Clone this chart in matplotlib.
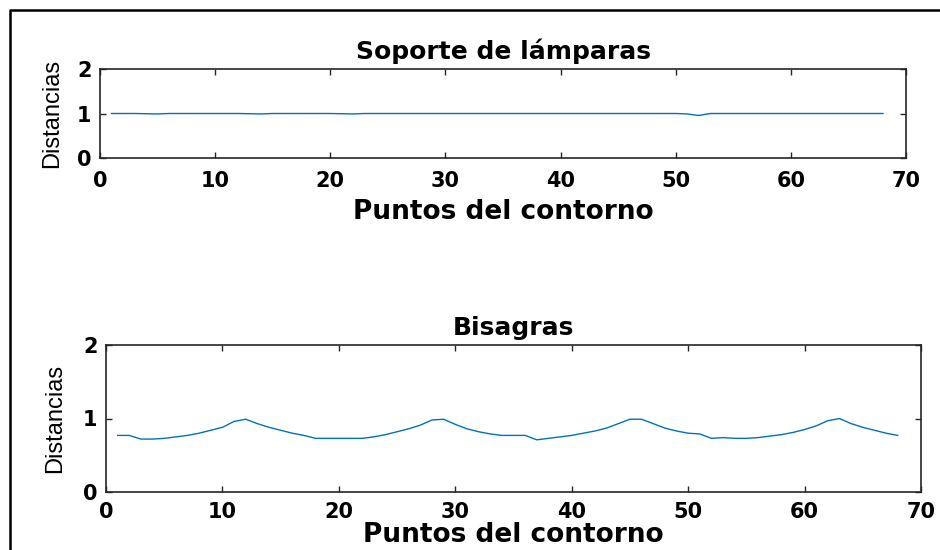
import matplotlib.pyplot as plt
from matplotlib.lines import Line2D

# Puntos del contorno (1..68)
puntos = list(range(1, 69))

# Soporte de lámparas: distancias casi constantes con una pequeña caída en 52
soporte = [1.0, 1.0, 1.0, 0.995, 0.99, 1.0, 1.0, 1.0, 1.0, 1.0,
           1.0, 1.0, 0.995, 0.99, 1.0, 1.0, 1.0, 1.0, 1.0, 1.0,
           0.995, 0.99, 1.0, 1.0, 1.0, 1.0, 1.0, 1.0, 1.0, 1.0,
           1.0, 1.0, 1.0, 1.0, 1.0, 1.0, 1.0, 1.0, 1.0, 1.0,
           1.0, 1.0, 1.0, 1.0, 1.0, 1.0, 1.0, 1.0, 1.0, 1.0,
           0.99, 0.955, 1.0, 1.0, 1.0, 1.0, 1.0, 1.0, 1.0, 1.0,
           1.0, 1.0, 1.0, 1.0, 1.0, 1.0, 1.0, 1.0]

# Bisagras: cuatro picos periódicos
bisagras = [0.77, 0.77, 0.72, 0.72, 0.73, 0.75, 0.77, 0.80, 0.84, 0.88,
            0.96, 0.99, 0.93, 0.88, 0.84, 0.80, 0.77, 0.73, 0.73, 0.73,
            0.73, 0.73, 0.75, 0.78, 0.82, 0.86, 0.91, 0.98, 0.99, 0.92,
            0.86, 0.82, 0.79, 0.77, 0.77, 0.77, 0.71, 0.73, 0.75, 0.77,
            0.80, 0.83, 0.87, 0.93, 0.99, 0.99, 0.93, 0.87, 0.83, 0.80,
            0.79, 0.73, 0.74, 0.73, 0.73, 0.74, 0.76, 0.78, 0.81, 0.85,
            0.90, 0.97, 1.00, 0.93, 0.88, 0.84, 0.80, 0.77]

xticks = [0, 10, 20, 30, 40, 50, 60, 70]
yticks = [0, 1, 2]

plt.rcParams['font.family'] = ['DejaVu Sans']

fig = plt.figure(figsize=(9.4, 5.5), dpi=100)
fig.patch.set_facecolor('white')

#Frame around figure (left and top edges visible)
W, H = 940.0, 550.0
fig.add_artist(Line2D([10 / W, 10 / W, 1.0], [0.0, 1 - 10 / H, 1 - 10 / H],
                      transform=fig.transFigure, color='black', lw=1.8))

axTop = fig.add_axes([100 / W, 1 - 158 / H, 806 / W, 89 / H])
axBot = fig.add_axes([106 / W, 1 - 492 / H, 815 / W, 147 / H])

#Per-axes settings: (axes, data, title, x tick pad, xlabel pad, ylabel pad)
settings = [(axTop, soporte, 'Soporte de lámparas', 9, 6, 10),
            (axBot, bisagras, 'Bisagras', 7, 0, 12)]

for ax, y, title, xpad, xlpad, ylpad in settings:
    ax.plot(puntos, y, color='#0072BD', lw=1.0)
    ax.set_xlim(0, 70)
    ax.set_ylim(0, 2)
    ax.set_xticks(xticks)
    ax.set_yticks(yticks)
    ax.tick_params(direction='in', top=True, right=True, length=4, width=1,
                   color='#262626', labelsize=15)
    ax.tick_params(axis='x', pad=xpad)
    ax.tick_params(axis='y', pad=6)
    for lab in ax.get_xticklabels() + ax.get_yticklabels():
        lab.set_fontweight('bold')
    for sp in ax.spines.values():
        sp.set_color('#262626')
        sp.set_linewidth(1.2)
    ax.set_title(title, fontsize=18, fontweight='bold', pad=7)
    ax.set_xlabel('Puntos del contorno', fontsize=19, fontweight='bold', labelpad=xlpad)
    ax.set_ylabel('Distancias', fontsize=17, family='Liberation Sans', labelpad=ylpad)

plt.savefig('out.png', dpi=100)
plt.close()
